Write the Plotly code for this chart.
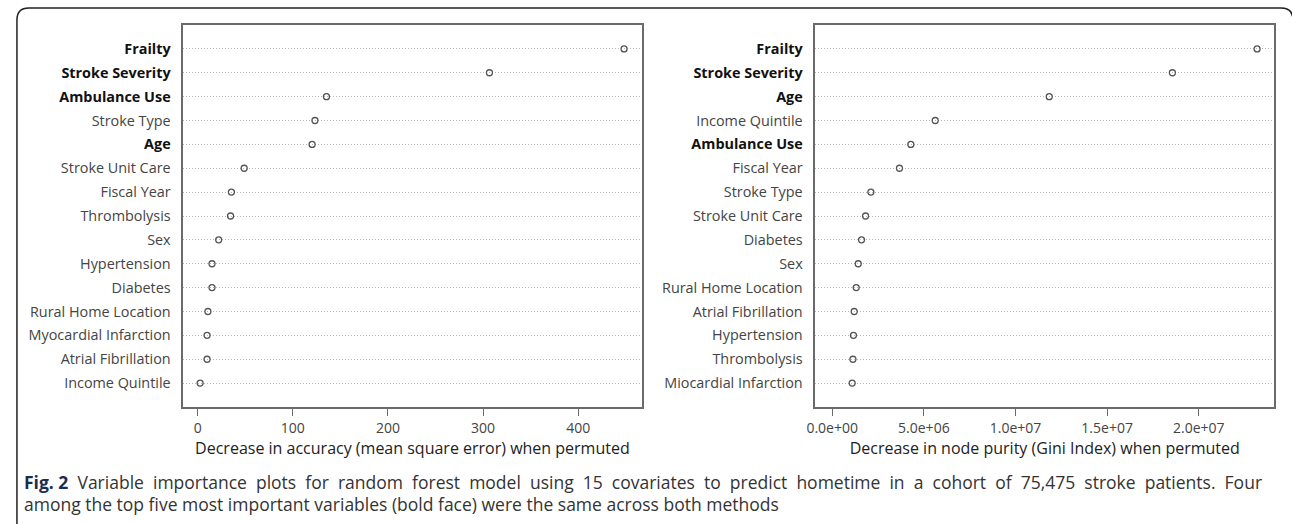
import plotly.graph_objects as go

W, H = 1292, 524

# ---- data (top to bottom as displayed) ----
left_vars = ["Frailty", "Stroke Severity", "Ambulance Use", "Stroke Type", "Age",
             "Stroke Unit Care", "Fiscal Year", "Thrombolysis", "Sex", "Hypertension",
             "Diabetes", "Rural Home Location", "Myocardial Infarction",
             "Atrial Fibrillation", "Income Quintile"]
left_vals = [448.2, 306.7, 135.4, 123.3, 120.3, 48.9, 35.5, 34.6, 22.1, 15.1,
             15.1, 10.8, 9.9, 9.9, 2.6]
left_bold = ["Frailty", "Stroke Severity", "Ambulance Use", "Age"]

right_vars = ["Frailty", "Stroke Severity", "Age", "Income Quintile", "Ambulance Use",
              "Fiscal Year", "Stroke Type", "Stroke Unit Care", "Diabetes", "Sex",
              "Rural Home Location", "Atrial Fibrillation", "Hypertension",
              "Thrombolysis", "Miocardial Infarction"]
right_vals = [23.18e6, 18.56e6, 11.84e6, 5.62e6, 4.29e6, 3.67e6, 2.11e6, 1.82e6,
              1.60e6, 1.42e6, 1.31e6, 1.20e6, 1.16e6, 1.13e6, 1.09e6]
right_bold = ["Frailty", "Stroke Severity", "Age", "Ambulance Use"]

left_ticks = [0, 100, 200, 300, 400]
left_ticklabels = ["0", "100", "200", "300", "400"]
right_ticks = [0, 5e6, 1e7, 1.5e7, 2e7]
right_ticklabels = ["0.0e+00", "5.0e+06", "1.0e+07", "1.5e+07", "2.0e+07"]

left_xtitle = "Decrease in accuracy (mean square error) when permuted"
right_xtitle = "Decrease in node purity (Gini Index) when permuted"
caption1_words = ["Variable", "importance", "plots", "for", "random", "forest", "model", "using",
                  "15", "covariates", "to", "predict", "hometime", "in", "a", "cohort", "of",
                  "75,475", "stroke", "patients.", "Four"]
caption2 = "among the top five most important variables (bold face) were the same across both methods"

FONT = "Open Sans, Noto Sans, DejaVu Sans, sans-serif"
AXC = "#6b6b6b"


def labels(vars_, bold):
    return [f"<b>{v}</b>" if v in bold else f"<span style='color:#444'>{v}</span>" for v in vars_]


fig = go.Figure()
n = len(left_vars)
ypos = list(range(n, 0, -1))

mk = dict(symbol="circle-open", size=6, color="#555", line=dict(width=1.3, color="#555"))
fig.add_trace(go.Scatter(x=left_vals, y=ypos, mode="markers", xaxis="x", yaxis="y",
                         marker=mk, showlegend=False, hoverinfo="skip"))
fig.add_trace(go.Scatter(x=right_vals, y=ypos, mode="markers", xaxis="x2", yaxis="y2",
                         marker=mk, showlegend=False, hoverinfo="skip"))

px = lambda v: v / W
py = lambda v: 1 - v / H

common_x = dict(showline=True, linecolor=AXC, linewidth=1.5, mirror=True,
                ticks="outside", ticklen=7, tickwidth=1.2, tickcolor=AXC,
                showgrid=False, zeroline=False,
                tickfont=dict(family=FONT, size=14, color="#444"))
common_y = dict(showline=True, linecolor=AXC, linewidth=1.5, mirror=True,
                ticks="", showgrid=True, gridcolor="#b4b4b4", griddash="1px,2px", gridwidth=1,
                zeroline=False, range=[0, 16], tickvals=ypos, ticklabelstandoff=8,
                tickfont=dict(family=FONT, size=14.4, color="#111"))

fig.update_layout(
    width=W, height=H, margin=dict(l=0, r=0, t=0, b=0),
    paper_bgcolor="white", plot_bgcolor="white",
    xaxis=dict(domain=[px(175.5), px(637)], range=[-15.1, 466.6], anchor="y",
               tickvals=left_ticks, ticktext=left_ticklabels,
               title=dict(text=left_xtitle, standoff=4,
                          font=dict(family=FONT, size=16, color="#222")),
               **common_x),
    yaxis=dict(domain=[py(407), py(25)], anchor="x",
               ticktext=labels(left_vars, left_bold), **common_y),
    xaxis2=dict(domain=[px(812), px(1274)], range=[-0.92e6, 24.11e6], anchor="y2",
                tickvals=right_ticks, ticktext=right_ticklabels,
                title=dict(text=right_xtitle, standoff=4,
                           font=dict(family=FONT, size=16, color="#222")),
                **common_x),
    yaxis2=dict(domain=[py(407), py(25)], anchor="x2",
                ticktext=labels(right_vars, right_bold), **common_y),
)

# outer rounded frame (decoration)
r = 12
x0, y0, x1 = 8, 8, 1293
path = (f"M {px(x0)},{py(H + 10)} L {px(x0)},{py(y0 + r)} "
        f"Q {px(x0)},{py(y0)} {px(x0 + r)},{py(y0)} "
        f"L {px(x1 - r)},{py(y0)} Q {px(x1)},{py(y0)} {px(x1)},{py(y0 + r)} "
        f"L {px(x1)},{py(H + 10)}")
fig.add_shape(type="path", path=path, xref="paper", yref="paper",
              line=dict(color="#222", width=1.5))

# first caption line is justified in the reference: widen the word gaps
caption1 = ("<b><span style='color:#1d2b4f'>Fig. 2</span></b>&nbsp;&nbsp;"
            + "&nbsp;&nbsp;".join(caption1_words))
fig.add_annotation(text=caption1, xref="paper", yref="paper", x=px(13), y=py(482),
                   xanchor="left", yanchor="middle", showarrow=False,
                   font=dict(family=FONT, size=17.5, color="#333"))
fig.add_annotation(text=caption2, xref="paper", yref="paper", x=px(13), y=py(504),
                   xanchor="left", yanchor="middle", showarrow=False,
                   font=dict(family=FONT, size=17.5, color="#333"))

fig.write_html("out.html")
